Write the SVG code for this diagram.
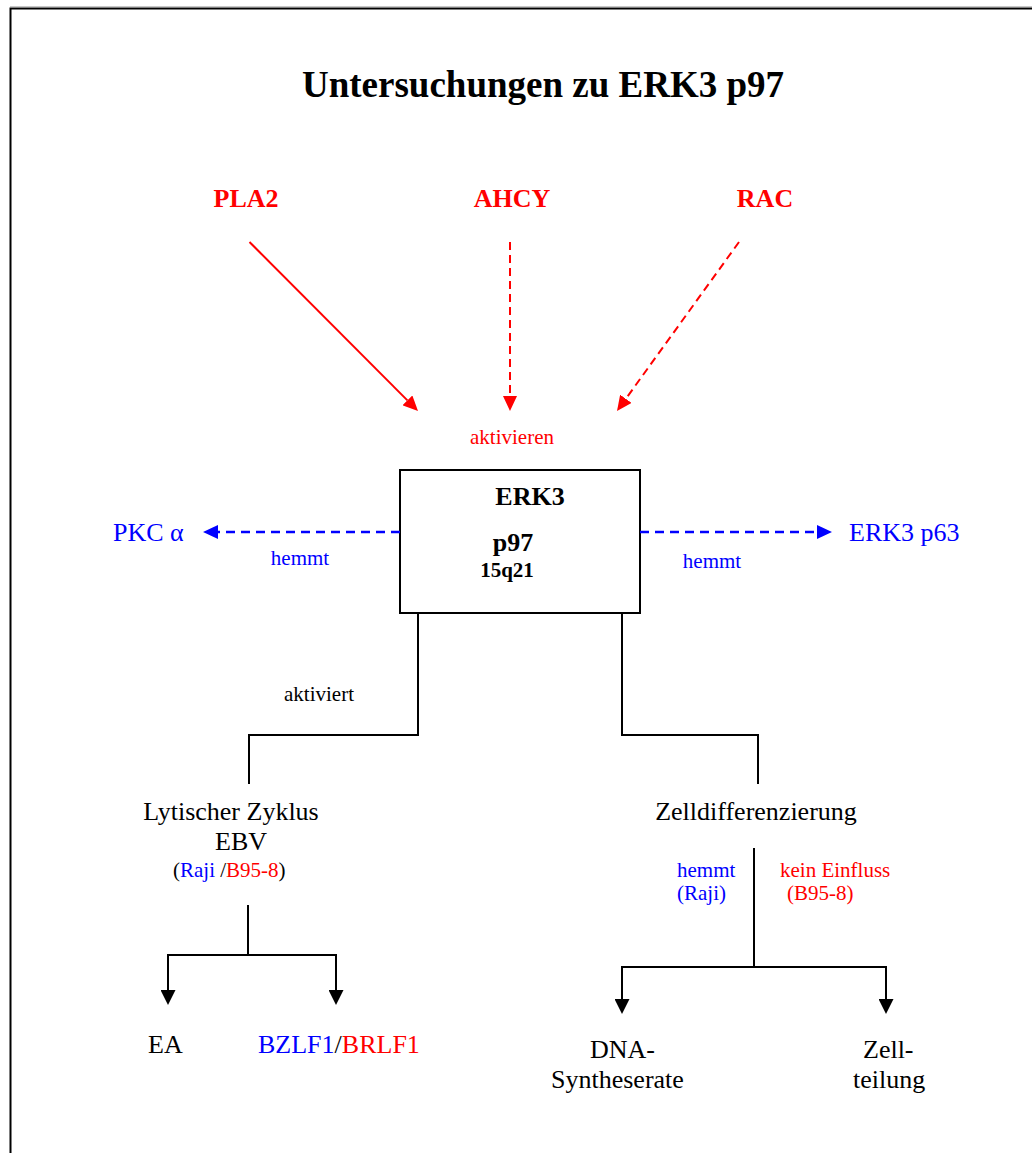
<svg xmlns="http://www.w3.org/2000/svg" width="1032" height="1153" viewBox="0 0 1032 1153">
  <style>
    text { font-family: "Liberation Serif", "Times New Roman", serif; }
    .title { font-size: 37px; font-weight: bold; fill: #000; }
    .src { font-size: 26px; font-weight: bold; fill: #ff0000; }
    .lbl { font-size: 26px; fill: #000; }
    .sm { font-size: 21px; }
    .red { fill: #ff0000; }
    .blue { fill: #0000ff; }
    .blk { fill: #000; }
    .rline { stroke: #ff0000; stroke-width: 2; fill: none; }
    .rdash { stroke: #ff0000; stroke-width: 2; fill: none; stroke-dasharray: 8 5; }
    .bdash { stroke: #0000ff; stroke-width: 2.5; fill: none; stroke-dasharray: 9 6; }
    .kline { stroke: #000; stroke-width: 2; fill: none; }
  </style>
  <defs>
    <marker id="arrRed" viewBox="0 0 15 14" refX="0" refY="7" markerWidth="15" markerHeight="14" markerUnits="userSpaceOnUse" orient="auto">
      <path d="M0,0 L15,7 L0,14 z" fill="#ff0000"/>
    </marker>
    <marker id="arrBlue" viewBox="0 0 15 14" refX="0" refY="7" markerWidth="15" markerHeight="14" markerUnits="userSpaceOnUse" orient="auto">
      <path d="M0,0 L15,7 L0,14 z" fill="#0000ff"/>
    </marker>
    <marker id="arrBlack" viewBox="0 0 15 15" refX="0" refY="7.5" markerWidth="15" markerHeight="15" markerUnits="userSpaceOnUse" orient="auto">
      <path d="M0,0 L15,7.5 L0,15 z" fill="#000"/>
    </marker>
  </defs>

  <rect width="1032" height="1153" fill="#fff"/>

  <!-- page frame -->
  <g id="frame">
    <line x1="10" y1="6.5" x2="1032" y2="6.5" stroke="#c8c8c8" stroke-width="1"/>
    <path d="M10.5,1153 V8.5 H1032" fill="none" stroke="#000" stroke-width="2"/>
  </g>

  <g id="title">
    <text class="title" x="543" y="97" text-anchor="middle">Untersuchungen zu ERK3 p97</text>
  </g>

  <!-- upstream activators -->
  <g id="node-pla2"><text class="src" x="246" y="207" text-anchor="middle">PLA2</text></g>
  <g id="node-ahcy"><text class="src" x="512" y="207" text-anchor="middle">AHCY</text></g>
  <g id="node-rac"><text class="src" x="765" y="207" text-anchor="middle">RAC</text></g>

  <g id="label-aktivieren">
    <text class="sm red" x="512" y="444" text-anchor="middle">aktivieren</text>
  </g>

  <!-- central kinase -->
  <g id="node-erk3">
    <rect x="400" y="470" width="240" height="143" fill="#fff" stroke="#000" stroke-width="2"/>
    <text x="530" y="505" text-anchor="middle" font-size="26" font-weight="bold" class="blk">ERK3</text>
    <text x="513" y="551" text-anchor="middle" font-size="26" font-weight="bold" class="blk">p97</text>
    <text x="507" y="577" text-anchor="middle" font-size="21" font-weight="bold" class="blk">15q21</text>
  </g>

  <!-- inhibited targets -->
  <g id="node-pkc"><text class="lbl blue" x="113" y="541">PKC α</text></g>
  <g id="node-erk3p63"><text class="lbl blue" x="849" y="541">ERK3 p63</text></g>
  <g id="label-hemmt-left"><text class="sm blue" x="300" y="565" text-anchor="middle">hemmt</text></g>
  <g id="label-hemmt-right"><text class="sm blue" x="712" y="568" text-anchor="middle">hemmt</text></g>

  <g id="label-aktiviert"><text class="sm blk" x="319" y="701" text-anchor="middle">aktiviert</text></g>

  <!-- lytic cycle branch -->
  <g id="node-lytic">
    <text class="lbl" x="231" y="820" text-anchor="middle">Lytischer Zyklus</text>
    <text class="lbl" x="241" y="850" text-anchor="middle">EBV</text>
    <text class="sm" x="173" y="877"><tspan class="blk">(</tspan><tspan class="blue">Raji </tspan><tspan class="blk">/</tspan><tspan class="red">B95-8</tspan><tspan class="blk">)</tspan></text>
  </g>
  <g id="node-ea"><text class="lbl" x="148" y="1053">EA</text></g>
  <g id="node-bzlf1"><text class="lbl" x="258" y="1053"><tspan class="blue">BZLF1</tspan><tspan class="blk">/</tspan><tspan class="red">BRLF1</tspan></text></g>

  <!-- differentiation branch -->
  <g id="node-diff"><text class="lbl" x="756" y="820" text-anchor="middle">Zelldifferenzierung</text></g>
  <g id="label-hemmt-raji">
    <text class="sm blue" x="677" y="877">hemmt</text>
    <text class="sm blue" x="677" y="900">(Raji)</text>
  </g>
  <g id="label-kein-einfluss">
    <text class="sm red" x="780" y="877">kein Einfluss</text>
    <text class="sm red" x="787" y="900">(B95-8)</text>
  </g>
  <g id="node-dna">
    <text class="lbl" x="590" y="1058">DNA-</text>
    <text class="lbl" x="551" y="1088">Syntheserate</text>
  </g>
  <g id="node-zellteilung">
    <text class="lbl" x="863" y="1058">Zell-</text>
    <text class="lbl" x="853" y="1088">teilung</text>
  </g>

  <!-- connectors -->
  <g id="connectors">
    <line class="rline" x1="249.5" y1="242" x2="407.4" y2="400.4" marker-end="url(#arrRed)"/>
    <line class="rdash" x1="510" y1="242" x2="510" y2="396" marker-end="url(#arrRed)"/>
    <line class="rdash" x1="739" y1="242" x2="625.8" y2="398.8" marker-end="url(#arrRed)"/>

    <line class="bdash" x1="400" y1="532" x2="218" y2="532" marker-end="url(#arrBlue)"/>
    <line class="bdash" x1="640" y1="532" x2="817" y2="532" marker-end="url(#arrBlue)"/>

    <polyline class="kline" points="418,613 418,735 249,735 249,784"/>
    <polyline class="kline" points="622,613 622,735 758,735 758,784"/>

    <line class="kline" x1="248" y1="905" x2="248" y2="955"/>
    <polyline class="kline" points="168,990 168,955 336,955 336,990" marker-start="none"/>
    <line class="kline" x1="168" y1="989" x2="168" y2="990" marker-end="url(#arrBlack)"/>
    <line class="kline" x1="336" y1="989" x2="336" y2="990" marker-end="url(#arrBlack)"/>

    <line class="kline" x1="754" y1="848" x2="754" y2="967"/>
    <polyline class="kline" points="622,999 622,967 886,967 886,999"/>
    <line class="kline" x1="622" y1="998" x2="622" y2="999" marker-end="url(#arrBlack)"/>
    <line class="kline" x1="886" y1="998" x2="886" y2="999" marker-end="url(#arrBlack)"/>
  </g>
</svg>
